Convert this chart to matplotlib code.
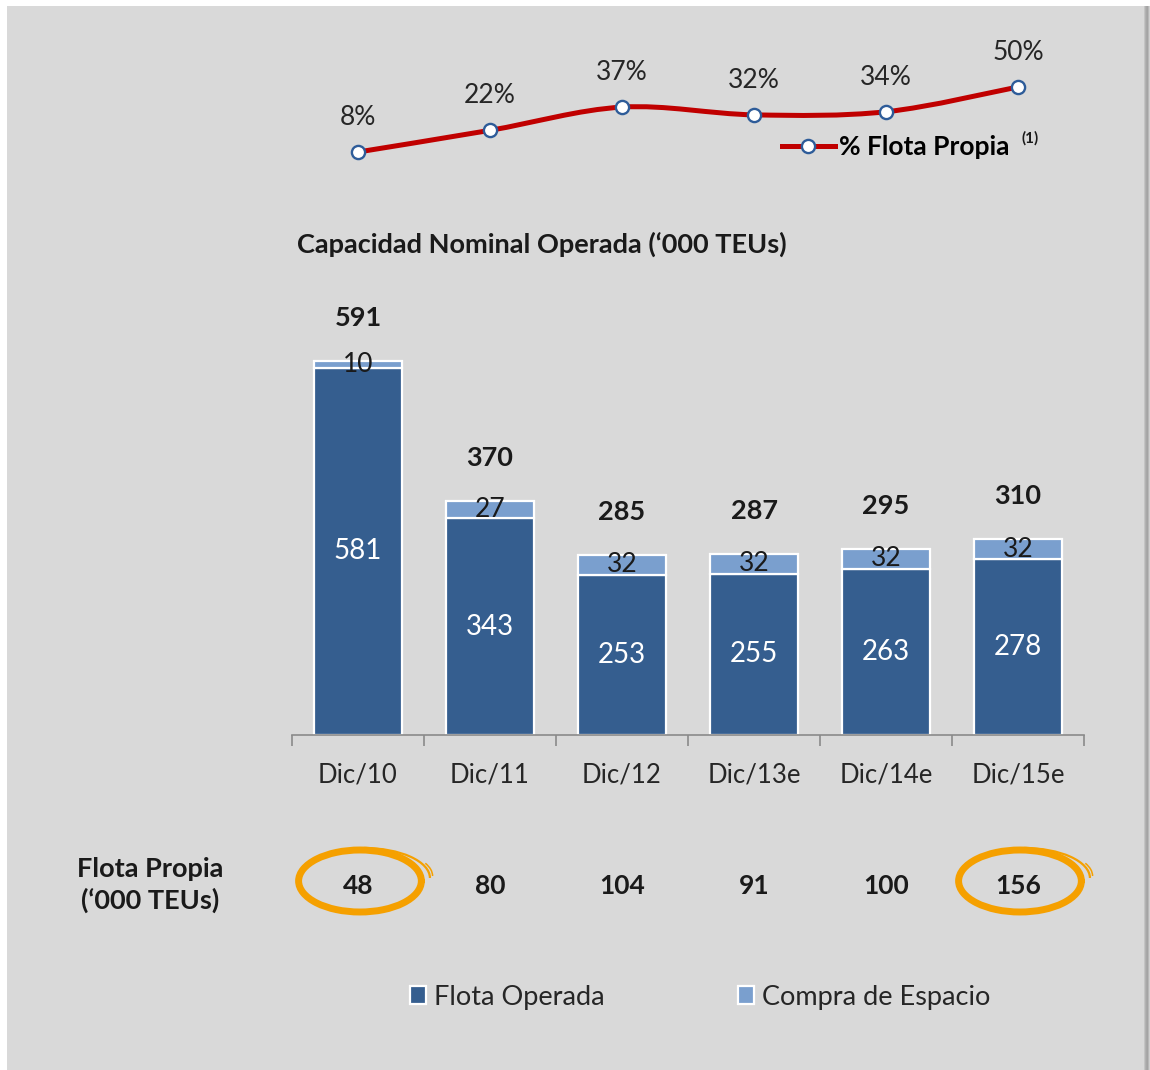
import matplotlib
matplotlib.use("Agg")
import matplotlib.pyplot as plt
import numpy as np
from matplotlib.path import Path
from matplotlib.patches import PathPatch, Rectangle, Arc
from matplotlib.lines import Line2D
import matplotlib.transforms as mtransforms

# ---------------- data ----------------
categories = ["Dic/10", "Dic/11", "Dic/12", "Dic/13e", "Dic/14e", "Dic/15e"]
flota_operada = [581, 343, 253, 255, 263, 278]
compra_espacio = [10, 27, 32, 32, 32, 32]
totales = [591, 370, 285, 287, 295, 310]
pct_flota_propia = [8, 22, 37, 32, 34, 50]
flota_propia = [48, 80, 104, 91, 100, 156]
highlight_idx = [0, 5]

# ---------------- style ----------------
plt.rcParams['font.family'] = ['Lato', 'DejaVu Sans']
DARK = '#355e8f'
LIGHT = '#7a9fce'
RED = '#c00000'
MKE = '#2e5c99'
ORANGE = '#f5a000'
TXT = '#1a1a1a'

W, H = 1150, 1070
fig = plt.figure(figsize=(W / 100, H / 100), dpi=100, facecolor='white')


def fx(px):
    return px / W


def fy(py):
    return 1 - py / H


# background panel (pixel coordinates)
bg = fig.add_axes([0, 0, 1, 1], zorder=-10)
bg.set_xlim(0, W)
bg.set_ylim(H, 0)
bg.axis('off')
bg.add_patch(Rectangle((7, 6), 1137, H, facecolor='#d9d9d9', edgecolor='none'))
for i, c in enumerate(['#c4c4c4', '#b2b2b2', '#a8a8a8', '#a4a4a4', '#b8b8b8', '#d0d0d0']):
    bg.add_patch(Rectangle((1144 + i, 6), 1, H, facecolor=c, edgecolor='none'))

# ---------------- bars ----------------
px_per_unit = 0.632
ax = fig.add_axes([fx(292), fy(735), (1084 - 292) / W, (735 - 300) / H])
ax.set_facecolor('none')
x = np.arange(len(categories))
ax.set_xlim(-0.5, len(categories) - 0.5)
ax.set_ylim(0, (735 - 300) / px_per_unit)

b1 = ax.bar(x, flota_operada, width=0.66, color=DARK, edgecolor='white',
            linewidth=1.6, label='Flota Operada')
b2 = ax.bar(x, compra_espacio, bottom=flota_operada, width=0.66, color=LIGHT,
            edgecolor='white', linewidth=1.6, label='Compra de Espacio')

ax.bar_label(b1, label_type='center', color='white', fontsize=20)
ax.bar_label(b2, label_type='center', color=TXT, fontsize=19, padding=0)
for xi, t in zip(x, totales):
    ax.annotate(str(t), (xi, t), xytext=(0, 31), textcoords='offset points',
                ha='center', va='center', fontsize=19.5, fontweight='bold', color=TXT)

for s in ['top', 'right', 'left']:
    ax.spines[s].set_visible(False)
ax.spines['bottom'].set_color('#8a8a8a')
ax.spines['bottom'].set_linewidth(1.2)
ax.set_yticks([])
ax.set_xticks(x, categories)
ax.set_xticks(np.arange(-0.5, len(categories), 1), minor=True)
ax.tick_params(axis='x', which='major', length=0, pad=20, labelsize=18.5, labelcolor='#262626')
ax.tick_params(axis='x', which='minor', length=8, width=1.2, color='#8a8a8a', direction='out')

# ---------------- line ----------------
ax2 = fig.add_axes([fx(292), fy(170), (1084 - 292) / W, 110 / H])
ax2.set_xlim(-0.5, len(categories) - 0.5)
ax2.set_ylim(8 - 18 / 1.55, 50 + 27 / 1.55)
ax2.axis('off')
ax2.set_facecolor('none')

P = np.column_stack([x, pct_flota_propia]).astype(float)
verts = [P[0]]
codes = [Path.MOVETO]
n = len(P)
for i in range(n - 1):
    p0 = P[i - 1] if i > 0 else P[i]
    p1 = P[i]
    p2 = P[i + 1]
    p3 = P[i + 2] if i + 2 < n else P[i + 1]
    c1 = p1 + (p2 - p0) / 6
    c2 = p2 - (p3 - p1) / 6
    verts += [c1, c2, p2]
    codes += [Path.CURVE4] * 3
ax2.add_patch(PathPatch(Path(verts, codes), facecolor='none', edgecolor=RED,
                        linewidth=3.6, capstyle='round'))
ax2.plot(x, pct_flota_propia, 'o', ms=9.5, mfc='white', mec=MKE, mew=1.7, zorder=5)
for xi, v in zip(x, pct_flota_propia):
    ax2.annotate(f"{v}%", (xi, v), xytext=(0, 25), textcoords='offset points',
                 ha='center', va='center', fontsize=19, color='#262626')

h_line = Line2D([], [], color=RED, lw=3.6, marker='o', ms=9.5, mfc='white', mec=MKE, mew=1.7)
ax2.legend(handles=[h_line], labels=['% Flota Propia'], loc='center left',
           bbox_to_anchor=(fx(782), fy(147)), bbox_transform=fig.transFigure,
           frameon=False, handlelength=2.0, handletextpad=0.15, borderpad=0,
           borderaxespad=0, prop=dict(weight='bold', size=19))
fig.text(fx(1021), fy(138), "(1)", fontsize=11, fontweight='bold', color=TXT,
         ha='left', va='center')

# ---------------- texts ----------------
fig.text(fx(297), fy(244), "Capacidad Nominal Operada (\u2018000 TEUs)", ha='left',
         va='center', fontsize=19.5, fontweight='bold', color=TXT)
fig.text(fx(150), fy(885), "Flota Propia\n(\u2018000 TEUs)", ha='center', va='center',
         fontsize=19.5, fontweight='bold', color=TXT, linespacing=1.3)

trow = mtransforms.blended_transform_factory(ax.transData, fig.transFigure)
for xi, v in zip(x, flota_propia):
    ax.text(xi, fy(886), str(v), transform=trow, ha='center', va='center',
            fontsize=19, fontweight='bold', color=TXT, clip_on=False)

# orange hand-drawn ellipses
tell = mtransforms.blended_transform_factory(ax.transData, bg.transData)
for i in highlight_idx:
    cx = x[i] + 0.015
    bg.add_patch(Arc((cx, 881), 0.93, 62, theta1=18, theta2=350, transform=tell,
                     color=ORANGE, lw=5.0, capstyle='round'))
    bg.add_patch(Arc((cx + 0.03, 878), 1.0, 60, theta1=270, theta2=357, transform=tell,
                     color=ORANGE, lw=1.6))
    bg.add_patch(Arc((cx + 0.05, 876), 1.0, 56, theta1=272, theta2=358, transform=tell,
                     color=ORANGE, lw=1.1))

# bottom legend
fig.legend(handles=[b1, b2], labels=['Flota Operada', 'Compra de Espacio'],
           loc='center left', bbox_to_anchor=(fx(410), fy(997)), ncol=2,
           frameon=False, handlelength=0.6, handleheight=0.6, handletextpad=0.3,
           columnspacing=4.9, borderpad=0, borderaxespad=0,
           prop=dict(size=19.5), labelcolor='#262626')

fig.savefig("out.png", dpi=100, facecolor='white')
